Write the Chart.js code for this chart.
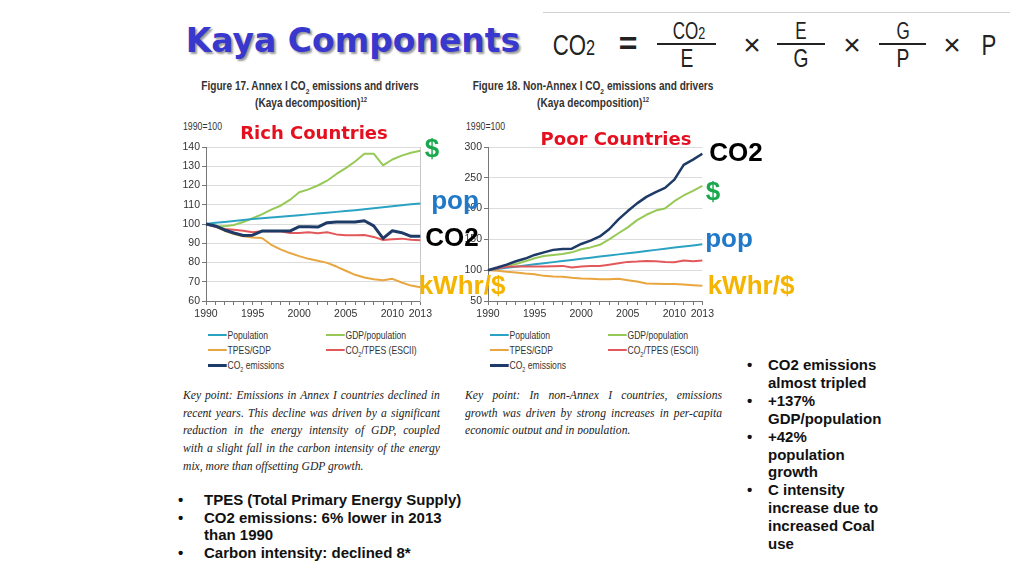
<!DOCTYPE html>
<html>
<head>
<meta charset="utf-8">
<script src="https://cdn.jsdelivr.net/npm/chart.js@4.4.1/dist/chart.umd.min.js"></script>
<style>
  html, body { margin: 0; padding: 0; background: #fff; }
  #slide { position: relative; width: 1024px; height: 576px; overflow: hidden; background: #fff; }
  .c { position: absolute; transform: translate(-50%, -50%); white-space: nowrap; line-height: 1; }
  .fx { font-family: 'Liberation Sans', Arial, sans-serif; color: #222; transform: translate(-50%, -50%) scaleX(0.74); }
  .op { font-family: 'Liberation Sans', Arial, sans-serif; color: #222; }
  .bar { position: absolute; height: 2px; background: #222; }
  .tag { position: absolute; transform: translate(-50%, -50%); white-space: nowrap; line-height: 1;
         font-family: 'Liberation Sans', Arial, sans-serif; font-weight: bold; font-size: 26px; z-index: 5; }
  .country { font-family: 'DejaVu Sans', sans-serif; font-size: 18px; color: #e5101f; }
  .figt { font-family: 'Liberation Sans', Arial, sans-serif; font-weight: bold; font-size: 12px; color: #333;
          transform: translate(-50%, -50%) scaleX(0.84); }
  .base { position: absolute; font-family: 'Liberation Sans', Arial, sans-serif; font-size: 10.5px; color: #333;
          line-height: 1; white-space: nowrap; transform: scaleX(0.83); transform-origin: left center; }
  .leg { position: absolute; font-family: 'Liberation Sans', Arial, sans-serif; font-size: 11px; color: #333;
         line-height: 1; white-space: nowrap; transform: scaleX(0.78); transform-origin: left center; }
  .leg i { display: inline-block; width: 24px; height: 2px; vertical-align: middle; margin-right: 1px; position: relative; top: -1px; }
  .leg sub { font-size: 7px; }
  .key { position: absolute; width: 292px; font-family: 'Liberation Serif', 'Times New Roman', serif;
         font-style: italic; font-size: 13.2px; color: #222; line-height: 17.7px;
         transform: scaleX(0.88); transform-origin: left top; }
  .key div { white-space: nowrap; }
  .key div.j { display: flex; justify-content: space-between; }
  .bul { position: absolute; font-family: 'Liberation Sans', Arial, sans-serif; font-weight: bold;
         font-size: 15px; color: #111; }
  .bul div { position: relative; white-space: nowrap; }
  .bul b { position: absolute; font-weight: bold; }
  canvas { position: absolute; }
</style>
</head>
<body>
<div id="slide">
  <!-- title -->
  <div class="c" style="left:353px;top:40px;font-family:'DejaVu Sans',sans-serif;font-weight:bold;font-size:33px;color:#3838cf;text-shadow:2px 2px 2px #9a9a9a;">Kaya Components</div>

  <!-- Kaya identity -->
  <div style="position:absolute;left:543px;top:12px;width:467px;height:1px;background:#d0d0d0;"></div>
  <div class="c fx" style="left:574px;top:45px;font-size:30px;">CO<span style="font-size:22px;">2</span></div>
  <div class="c op" style="left:628px;top:43px;font-size:32px;font-weight:bold;">=</div>
  <div class="c fx" style="left:689px;top:31px;font-size:23px;">CO<span style="font-size:17px;">2</span></div>
  <div class="bar" style="left:657px;top:43px;width:59px;"></div>
  <div class="c fx" style="left:687px;top:58px;font-size:26px;">E</div>
  <div class="c op" style="left:752px;top:45px;font-size:30px;">×</div>
  <div class="c fx" style="left:801px;top:31px;font-size:23px;">E</div>
  <div class="bar" style="left:777px;top:43px;width:48px;"></div>
  <div class="c fx" style="left:801px;top:58px;font-size:26px;">G</div>
  <div class="c op" style="left:852px;top:45px;font-size:30px;">×</div>
  <div class="c fx" style="left:903px;top:31px;font-size:23px;">G</div>
  <div class="bar" style="left:879px;top:43px;width:47px;"></div>
  <div class="c fx" style="left:903px;top:58px;font-size:26px;">P</div>
  <div class="c op" style="left:952px;top:45px;font-size:30px;">×</div>
  <div class="c fx" style="left:989px;top:45px;font-size:30px;">P</div>

  <!-- figure titles -->
  <div class="c figt" style="left:310px;top:88px;">Figure 17. Annex I CO<sub style="font-size:8px;">2</sub> emissions and drivers</div>
  <div class="c figt" style="left:311px;top:102px;">(Kaya decomposition)<sup style="font-size:7px;">12</sup></div>
  <div class="c figt" style="left:593px;top:88px;">Figure 18. Non-Annex I CO<sub style="font-size:8px;">2</sub> emissions and drivers</div>
  <div class="c figt" style="left:593px;top:102px;">(Kaya decomposition)<sup style="font-size:7px;">12</sup></div>

  <div class="base" style="left:183px;top:121px;">1990=100</div>
  <div class="base" style="left:466px;top:121px;">1990=100</div>

  <canvas id="rich" width="265" height="205" style="left:170px;top:118px;"></canvas>
  <canvas id="poor" width="265" height="205" style="left:452px;top:118px;"></canvas>

  <!-- hand-written labels on the slide -->
  <div class="tag country" style="left:314px;top:133px;">Rich Countries</div>
  <div class="tag" style="left:432px;top:148px;color:#19a84d;">$</div>
  <div class="tag" style="left:455px;top:200px;color:#1f78c8;">pop</div>
  <div class="tag" style="left:452px;top:237px;color:#000;">CO2</div>
  <div class="tag" style="left:462px;top:285px;color:#f5b400;">kWhr/$</div>
  <div class="tag country" style="left:616px;top:139px;">Poor Countries</div>
  <div class="tag" style="left:736px;top:152px;color:#000;">CO2</div>
  <div class="tag" style="left:713px;top:191px;color:#19a84d;">$</div>
  <div class="tag" style="left:729px;top:238px;color:#1f78c8;">pop</div>
  <div class="tag" style="left:751px;top:285px;color:#f5b400;">kWhr/$</div>

  <!-- legends -->
  <div class="leg" style="left:208px;top:330px;"><i style="background:#2aa3c3"></i>Population</div>
  <div class="leg" style="left:326px;top:330px;"><i style="background:#97c957"></i>GDP/population</div>
  <div class="leg" style="left:208px;top:345px;"><i style="background:#e9a640"></i>TPES/GDP</div>
  <div class="leg" style="left:326px;top:345px;"><i style="background:#e2585b"></i>CO<sub>2</sub>/TPES (ESCII)</div>
  <div class="leg" style="left:208px;top:360px;"><i style="background:#1e3a66;height:3px"></i>CO<sub>2</sub> emissions</div>

  <div class="leg" style="left:490px;top:330px;"><i style="background:#2aa3c3"></i>Population</div>
  <div class="leg" style="left:608px;top:330px;"><i style="background:#97c957"></i>GDP/population</div>
  <div class="leg" style="left:490px;top:345px;"><i style="background:#e9a640"></i>TPES/GDP</div>
  <div class="leg" style="left:608px;top:345px;"><i style="background:#e2585b"></i>CO<sub>2</sub>/TPES (ESCII)</div>
  <div class="leg" style="left:490px;top:360px;"><i style="background:#1e3a66;height:3px"></i>CO<sub>2</sub> emissions</div>

  <!-- key points -->
  <div class="key" style="left:183px;top:386px;">
    <div class="j">Key point: Emissions in Annex I countries declined in</div>
    <div class="j">recent years. This decline was driven by a significant</div>
    <div class="j">reduction in the energy intensity of GDP, coupled</div>
    <div class="j">with a slight fall in the carbon intensity of the energy</div>
    <div>mix, more than offsetting GDP growth.</div>
  </div>
  <div class="key" style="left:465px;top:386px;height:48px;overflow:hidden;">
    <div class="j">Key point: In non-Annex I countries, emissions</div>
    <div class="j">growth was driven by strong increases in per-capita</div>
    <div>economic output and in population.</div>
  </div>

  <!-- bullets -->
  <div class="bul" style="left:204px;top:491px;line-height:17.5px;">
    <div><b style="left:-26px">•</b>TPES (Total Primary Energy Supply)</div>
    <div><b style="left:-26px">•</b>CO2 emissions: 6% lower in 2013</div>
    <div>than 1990</div>
    <div><b style="left:-26px">•</b>Carbon intensity: declined 8*</div>
  </div>
  <div class="bul" style="left:768px;top:356px;line-height:17.9px;">
    <div><b style="left:-21px">•</b>CO2 emissions</div>
    <div>almost tripled</div>
    <div><b style="left:-21px">•</b>+137%</div>
    <div>GDP/population</div>
    <div><b style="left:-21px">•</b>+42%</div>
    <div>population</div>
    <div>growth</div>
    <div><b style="left:-21px">•</b>C intensity</div>
    <div>increase due to</div>
    <div>increased Coal</div>
    <div>use</div>
  </div>
</div>

<script>
// spread justified key-point lines word by word
document.querySelectorAll('.key div.j').forEach(function (row) {
  var words = row.textContent.trim().split(/\s+/);
  row.textContent = '';
  words.forEach(function (w) {
    var s = document.createElement('span');
    s.textContent = w;
    row.appendChild(s);
  });
});

// years on the x axis, and the ones that get a label
var years = ['1990','1991','1992','1993','1994','1995','1996','1997','1998','1999','2000','2001',
             '2002','2003','2004','2005','2006','2007','2008','2009','2010','2011','2012','2013'];
var labelledYears = ['1990','1995','2000','2005','2010','2013'];

// Figure 17 - Annex I (1990 = 100)
var richPopulation = [100, 100.6, 101.1, 101.6, 102.1, 102.6, 103.0, 103.4, 103.8, 104.2, 104.6, 105.0,
                      105.4, 105.8, 106.3, 106.7, 107.2, 107.7, 108.2, 108.7, 109.2, 109.7, 110.2, 110.7];
var richGdpPop     = [100, 99, 98.8, 99.5, 101, 103, 105, 107.5, 109.5, 112.5, 116.5, 118,
                      120, 122.5, 126, 129, 132.5, 136.5, 136.5, 130.5, 133.5, 135.5, 137, 138];
var richTpesGdp    = [100, 98.6, 96.5, 94.8, 93.6, 93, 92.7, 89.2, 86.8, 84.9, 83.3, 81.9,
                      80.9, 79.8, 77.9, 75.7, 73.6, 72.2, 71.3, 70.8, 71.5, 69.6, 68.0, 67.1];
var richCo2Tpes    = [100, 98.5, 97.4, 97, 96.5, 95.7, 96.3, 96.2, 96.2, 95.3, 95.3, 95.7,
                      95.2, 95.7, 94.6, 94.1, 94.1, 94.3, 93.3, 91.7, 92.1, 92.4, 91.8, 91.5];
var richCo2        = [100, 99, 96.9, 95.3, 94, 94.2, 96.3, 96.3, 96.3, 96.3, 98.6, 98.6,
                      98.4, 100.7, 101, 101, 101, 101.7, 99, 92.5, 96.5, 95.5, 93.6, 93.6];

// Figure 18 - Non-Annex I (1990 = 100)
var poorPopulation = [100, 101.9, 103.8, 105.7, 107.6, 109.5, 111.3, 113.1, 114.9, 116.7, 118.5, 120.3,
                      122.1, 123.9, 125.7, 127.5, 129.3, 131.2, 133.0, 134.9, 136.7, 138.5, 140.2, 142];
var poorGdpPop     = [100, 103, 107, 110, 114.5, 119.4, 123, 124.8, 126.4, 129, 134, 137,
                      141.3, 150, 160, 169.5, 181.3, 190, 196.8, 200.3, 212, 221.3, 228.9, 237];
var poorTpesGdp    = [100, 99, 97.3, 96.2, 94.6, 93.5, 90.8, 89.8, 89.2, 87.6, 86.5, 86,
                      85.5, 85.5, 86, 83.8, 81.7, 78.5, 77.9, 77.4, 77.4, 76.8, 75.7, 74.6];
var poorCo2Tpes    = [100, 102.7, 105.4, 106, 106, 106, 106, 106.5, 107, 104.3, 106, 107,
                      107, 109, 111.3, 113.5, 114, 115, 114.5, 113.5, 113, 115.6, 114.5, 115.6];
var poorCo2        = [100, 104.3, 109, 114.5, 118.9, 124.8, 129, 133, 134.5, 135, 142.6, 148,
                      154.8, 166.5, 182.5, 196, 208.5, 219, 226.7, 233.6, 247, 271, 279.5, 289];

var TEAL = '#2aa3c3', GREEN = '#97c957', ORANGE = '#e9a640', RED = '#e2585b', NAVY = '#1e3a66';
var FONT = "'Liberation Sans', Arial, sans-serif";

function kayaChart(id, pop, gdp, tpes, co2tpes, co2, yMin, yMax, yStep, co2Width, rightFrame) {
  var scales = {
    x: {
      type: 'category',
      grid: { drawOnChartArea: false, drawTicks: true, tickLength: 4, tickColor: '#777' },
      border: { color: '#777', width: 1 },
      ticks: {
        autoSkip: false, maxRotation: 0, padding: 3, color: '#333', font: { family: FONT, size: 10.5 },
        callback: function (v) {
          var l = this.getLabelForValue(v);
          return labelledYears.indexOf(l) >= 0 ? l : '';
        }
      },
      afterFit: function (s) { s.height = 22; }
    },
    y: {
      min: yMin, max: yMax,
      grid: { color: '#dcdcdc', tickLength: 4, tickColor: '#777' },
      border: { color: '#777', width: 1 },
      ticks: { stepSize: yStep, padding: 2, color: '#333', font: { family: FONT, size: 10.5 } },
      afterFit: function (s) { s.width = 36; }
    }
  };
  if (rightFrame) {
    scales.yr = {
      position: 'right', min: yMin, max: yMax,
      grid: { drawOnChartArea: false, drawTicks: false },
      border: { color: '#c8c8c8', width: 1 },
      ticks: { display: false },
      afterFit: function (s) { s.width = 0; }
    };
  }
  return new Chart(document.getElementById(id), {
    type: 'line',
    data: {
      labels: years,
      datasets: [
        { label: 'CO2 emissions', data: co2, borderColor: NAVY, borderWidth: co2Width, order: 0 },
        { label: 'CO2/TPES (ESCII)', data: co2tpes, borderColor: RED, borderWidth: 2, order: 1 },
        { label: 'Population', data: pop, borderColor: TEAL, borderWidth: 2, order: 2 },
        { label: 'GDP/population', data: gdp, borderColor: GREEN, borderWidth: 2, order: 3 },
        { label: 'TPES/GDP', data: tpes, borderColor: ORANGE, borderWidth: 2, order: 4 }
      ]
    },
    options: {
      responsive: false,
      animation: false,
      devicePixelRatio: 1,
      layout: { padding: { top: 29, right: 11, left: 0, bottom: 0 } },
      elements: { point: { radius: 0 }, line: { tension: 0, borderJoinStyle: 'round' } },
      plugins: { legend: { display: false }, tooltip: { enabled: false } },
      scales: scales
    }
  });
}

kayaChart('rich', richPopulation, richGdpPop, richTpesGdp, richCo2Tpes, richCo2, 60, 140, 10, 3, true);
kayaChart('poor', poorPopulation, poorGdpPop, poorTpesGdp, poorCo2Tpes, poorCo2, 50, 300, 50, 2.5, false);
</script>
</body>
</html>
